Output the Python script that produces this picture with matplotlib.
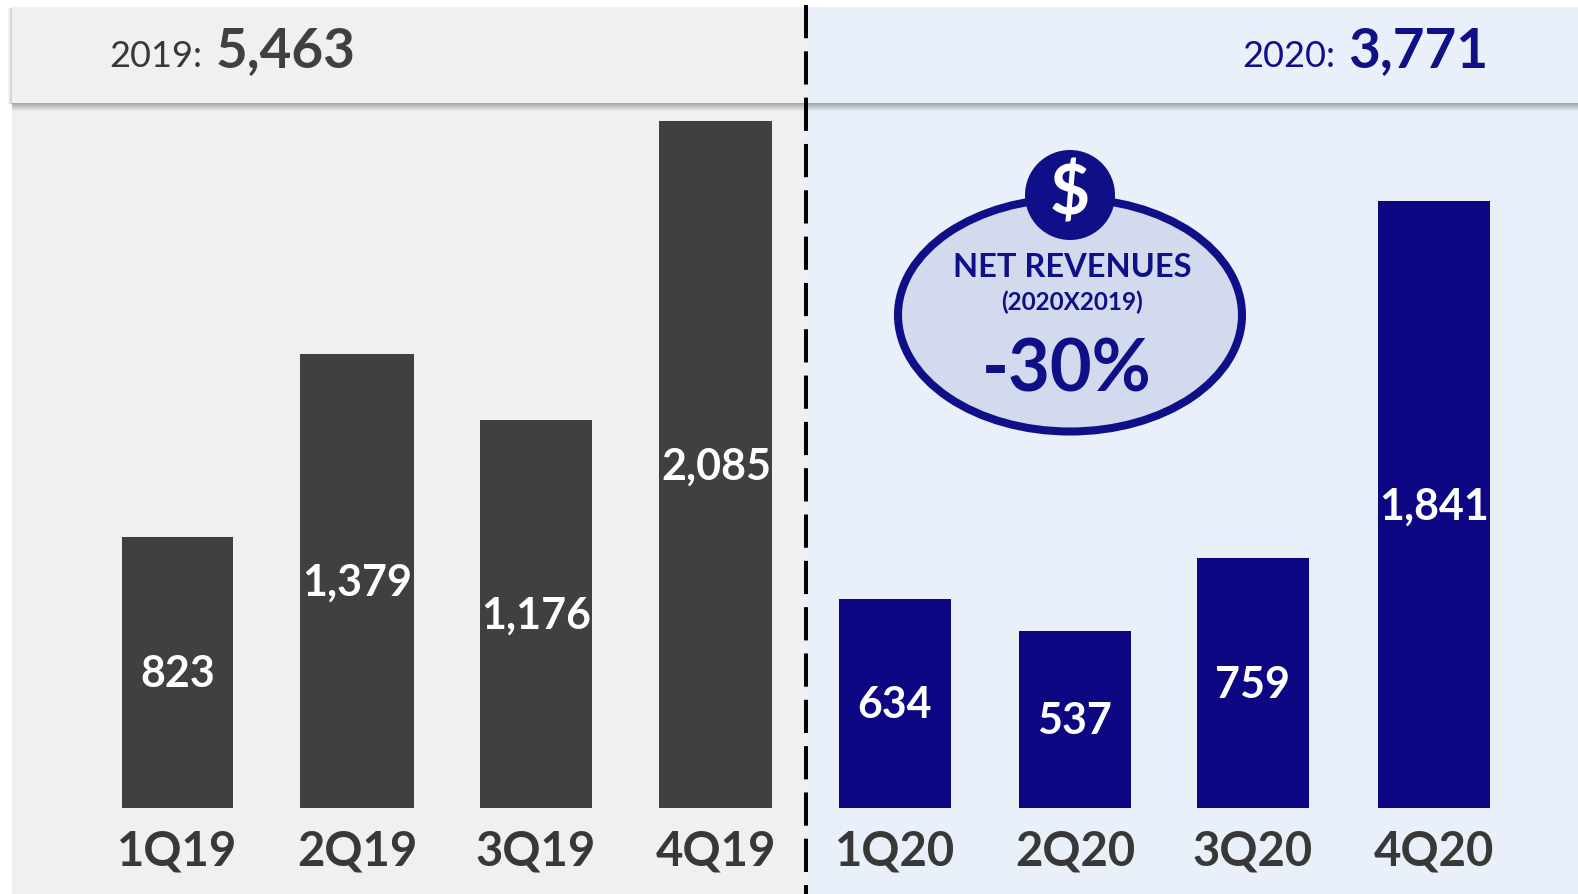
#!/usr/bin/env python3
"""Net revenues by quarter, 2019 vs 2020."""

import matplotlib

matplotlib.use("Agg")

import matplotlib.pyplot as plt
from matplotlib.patches import Circle, Ellipse, Rectangle

WIDTH = 1578
HEIGHT = 894
BASELINE = 807.5
PX_PER_UNIT = 0.3292

QUARTERS_2019 = ["1Q19", "2Q19", "3Q19", "4Q19"]
QUARTERS_2020 = ["1Q20", "2Q20", "3Q20", "4Q20"]
VALUES_2019 = [823, 1379, 1176, 2085]
VALUES_2020 = [634, 537, 759, 1841]
TOTAL_2019 = "5,463"
TOTAL_2020 = "3,771"

# bar centres and widths in pixels, the slide spacing is not quite regular
CENTERS_2019 = [177.5, 357.5, 536, 716]
CENTERS_2020 = [895, 1075, 1253, 1434]
WIDTHS_2019 = [111, 114, 112, 113]
WIDTHS_2020 = [112, 112, 112, 112]

GREY = "#404040"
NAVY = "#0D0784"
NAVY_TEXT = "#0F1087"
LABEL_GREY = "#383838"
BG_LEFT = "#F0F0F0"
BG_RIGHT = "#E9F0FA"
FONT = "Lato"

fig = plt.figure(figsize=(WIDTH / 100, HEIGHT / 100), dpi=100, facecolor="white")

# background and decoration in pixel coordinates
bg = fig.add_axes([0, 0, 1, 1], zorder=1)
bg.set_xlim(0, WIDTH)
bg.set_ylim(HEIGHT, 0)
bg.axis("off")
bg.add_patch(Rectangle((12, 7), 794, HEIGHT, fc=BG_LEFT, ec="none"))
bg.add_patch(Rectangle((806, 7), WIDTH - 806, HEIGHT, fc=BG_RIGHT, ec="none"))

# soft shadow under the header strip
for i in range(8):
    shade = 0.30 * (1 - i / 8)
    bg.add_patch(Rectangle((12, 103 + i), WIDTH - 12, 1, fc="black", alpha=shade, ec="none"))
    if i < 4:
        bg.add_patch(Rectangle((11 - i, 8), 1, 96, fc="black", alpha=0.18 * (1 - i / 4), ec="none"))

# bars
ax = fig.add_axes([0, (HEIGHT - BASELINE) / HEIGHT, 1, BASELINE / HEIGHT], zorder=2)
ax.patch.set_alpha(0)
ax.set_xlim(0, WIDTH)
ax.set_ylim(0, BASELINE / PX_PER_UNIT)
for spine in ax.spines.values():
    spine.set_visible(False)
ax.set_yticks([])

bars_2019 = ax.bar(CENTERS_2019, VALUES_2019, width=WIDTHS_2019, color=GREY)
bars_2020 = ax.bar(CENTERS_2020, VALUES_2020, width=WIDTHS_2020, color=NAVY)
for bars in (bars_2019, bars_2020):
    texts = ax.bar_label(
        bars,
        labels=[f"{v:,}" for v in bars.datavalues],
        label_type="center",
        color="white",
        fontsize=31,
        fontweight="bold",
        family=FONT,
    )
    for t in texts:
        t.xyann = (0, -1.5)

ax.set_xticks(CENTERS_2019 + CENTERS_2020, QUARTERS_2019 + QUARTERS_2020)
ax.tick_params(axis="x", length=0, pad=16, labelsize=34)
for label in ax.get_xticklabels():
    label.set_family(FONT)
    label.set_fontweight("bold")
    label.set_color(LABEL_GREY)

# overlay: header text, divider, callout
top = fig.add_axes([0, 0, 1, 1], zorder=3)
top.patch.set_alpha(0)
top.set_xlim(0, WIDTH)
top.set_ylim(HEIGHT, 0)
top.axis("off")

top.text(202, 67, "2019:", ha="right", va="baseline", fontsize=26, color=LABEL_GREY, family=FONT)
top.text(216, 67, TOTAL_2019, ha="left", va="baseline", fontsize=39.5, fontweight="bold", color=GREY, family=FONT)
top.text(1335, 67, "2020:", ha="right", va="baseline", fontsize=26, color=NAVY_TEXT, family=FONT)
top.text(1348, 67, TOTAL_2020, ha="left", va="baseline", fontsize=39.5, fontweight="bold", color=NAVY_TEXT, family=FONT)

top.plot([806, 806], [5, HEIGHT], color="black", lw=2.9, linestyle=(0, (33 / 4, 13 / 4)), dash_capstyle="butt")

top.add_patch(Ellipse((1070, 315), 344, 233, fc="#D3DAEE", ec=NAVY_TEXT, lw=5.8))
top.add_patch(Circle((1070, 195), 45, fc=NAVY_TEXT, ec="none"))
top.text(1070, 195, "$", ha="center", va="center", fontsize=50, fontweight="bold", color="white", family=FONT)
top.text(1072, 277, "NET REVENUES", ha="center", va="baseline", fontsize=23.5, fontweight="bold", color=NAVY_TEXT, family=FONT)
top.text(1072, 310, "(2020X2019)", ha="center", va="baseline", fontsize=17.5, fontweight="bold", color=NAVY_TEXT, family=FONT)
top.text(1067, 392, "-30%", ha="center", va="baseline", fontsize=52, fontweight="bold", color=NAVY_TEXT, family=FONT)

fig.savefig("out.png", dpi=100)
plt.close(fig)
